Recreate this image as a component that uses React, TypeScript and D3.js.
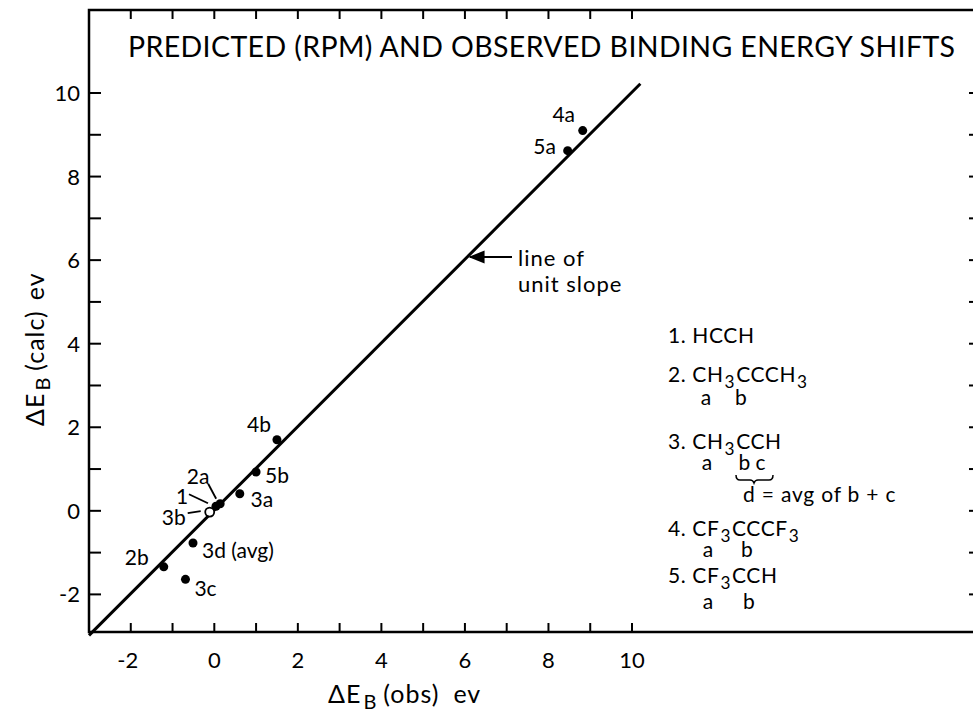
import React from "react";
import * as d3 from "d3";

const W = 973;
const H = 713;

// ---- data ----
const pointLabels = ["4a", "5a", "4b", "5b", "3a", "2a", "1", "3b", "3d (avg)", "2b", "3c"];
const obsValues = [8.82, 8.46, 1.5, 1.0, 0.61, 0.14, 0.04, -0.11, -0.51, -1.21, -0.69];
const calcValues = [9.1, 8.62, 1.7, 0.93, 0.41, 0.17, 0.11, -0.03, -0.77, -1.34, -1.64];
const openPoints = ["3b"];

const xTickValues = [-2, 0, 2, 4, 6, 8, 10];
const yTickValues = [-2, 0, 2, 4, 6, 8, 10];
const minorTicks = d3.range(-2, 11);
const unitLineX = [-3, 10.2];

const titleText = "PREDICTED (RPM) AND OBSERVED BINDING ENERGY  SHIFTS";

// label placement (pixel offsets from point), anchor
const labelOffsets: Record<string, [number, number, string]> = {
  "4a": [-19, -17, "middle"],
  "5a": [-23, -5, "middle"],
  "4b": [-18, -16, "middle"],
  "5b": [21, 3, "middle"],
  "3a": [22, 5, "middle"],
  "2a": [-22, -28, "middle"],
  "1": [-34, -11, "middle"],
  "3b": [-36, 4, "middle"],
  "3d (avg)": [9, 6, "start"],
  "2b": [-27, -10, "middle"],
  "3c": [20, 8, "middle"],
};
const leaders: Record<string, [number, number, number, number]> = {
  "2a": [-12, -20, -4, -5],
  "1": [-27, -12, -8, -3],
  "3b": [-22, 1, -9, -1],
};

const FONT = "Lato, 'Open Sans', sans-serif";

type Seg = { t: string; sub?: boolean };
const legendRows: { y: number; segs: Seg[] }[] = [
  { y: 343, segs: [{ t: "1. HCCH" }] },
  { y: 382, segs: [{ t: "2. CH" }, { t: "3", sub: true }, { t: "CCCH" }, { t: "3", sub: true }] },
  { y: 449, segs: [{ t: "3. CH" }, { t: "3", sub: true }, { t: "CCH" }] },
  { y: 536, segs: [{ t: "4. CF" }, { t: "3", sub: true }, { t: "CCCF" }, { t: "3", sub: true }] },
  { y: 583, segs: [{ t: "5. CF" }, { t: "3", sub: true }, { t: "CCH" }] },
];
const legendLetters: { x: number; y: number; t: string }[] = [
  { x: 706, y: 405, t: "a" },
  { x: 741, y: 405, t: "b" },
  { x: 707, y: 470, t: "a" },
  { x: 752, y: 470, t: "b c" },
  { x: 708, y: 557, t: "a" },
  { x: 747, y: 557, t: "b" },
  { x: 708, y: 609, t: "a" },
  { x: 749, y: 609, t: "b" },
];

function SubText({ x, y, segs, size }: { x: number; y: number; segs: Seg[]; size: number }) {
  let prevSub = false;
  return (
    <text x={x} y={y} fontSize={size} fontFamily={FONT} fill="#000" letterSpacing={0.6}>
      {segs.map((s, i) => {
        let dy = 0;
        if (s.sub && !prevSub) dy = 6;
        if (!s.sub && prevSub) dy = -6;
        prevSub = !!s.sub;
        return (
          <tspan key={i} dy={dy} fontSize={s.sub ? size * 0.82 : size} dx={1}>
            {s.t}
          </tspan>
        );
      })}
    </text>
  );
}

export default function App() {
  const x = d3.scaleLinear().domain([-3, 10]).range([89, 632]);
  const y = d3.scaleLinear().domain([-2.9, 10]).range([632, 93]);
  const left = 89,
    top = 10,
    bottom = 632,
    right = 985;

  const line = d3
    .line<number>()
    .x((d) => x(d))
    .y((d) => y(d + 0.02));

  return (
    <svg width={W} height={H} style={{ position: "absolute", left: 0, top: 0, background: "#fff" }}>
      <rect x={0} y={0} width={W} height={H} fill="#fff" />
      <defs>
        <marker id="arr" viewBox="0 0 10 10" refX="9" refY="5" markerWidth="9" markerHeight="9" orient="auto">
          <path d="M0,1 L10,5 L0,9 Z" fill="#000" />
        </marker>
      </defs>
      {/* frame */}
      <path
        d={`M${right},${top} L${left},${top} L${left},${bottom} L${right},${bottom} Z`}
        fill="none"
        stroke="#000"
        strokeWidth={2.5}
      />
      {/* ticks */}
      {minorTicks.map((v) => (
        <g key={"t" + v} stroke="#000" strokeWidth={2}>
          <line x1={x(v)} x2={x(v)} y1={bottom} y2={bottom - 9} />
          <line x1={x(v)} x2={x(v)} y1={top} y2={top + 9} />
          <line x1={left} x2={left + 12} y1={y(v)} y2={y(v)} />
          <line x1={right} x2={right - 16} y1={y(v)} y2={y(v)} />
        </g>
      ))}
      {/* tick labels */}
      {xTickValues.map((v) => (
        <text
          key={"xl" + v}
          x={x(v) - (v < 0 ? 3 : 0)}
          y={668}
          fontSize={22}
          fontFamily={FONT}
          textAnchor="middle"
        >
          {v}
        </text>
      ))}
      {yTickValues.map((v) => (
        <text
          key={"yl" + v}
          x={80}
          y={y(v) + 8}
          fontSize={22}
          fontFamily={FONT}
          textAnchor="end"
        >
          {v}
        </text>
      ))}
      {/* axis titles */}
      <text x={328} y={703} fontSize={25} fontFamily={FONT} letterSpacing={1}>
        ΔE
        <tspan fontSize={20} dy={6} dx={2}>
          B
        </tspan>
        <tspan dy={-6} dx={6}>
          (obs)
        </tspan>
        <tspan dx={14}>ev</tspan>
      </text>
      <text transform={`translate(44,426) rotate(-90)`} fontSize={25} fontFamily={FONT} letterSpacing={1}>
        ΔE
        <tspan fontSize={20} dy={6} dx={2}>
          B
        </tspan>
        <tspan dy={-6} dx={6}>
          (calc)
        </tspan>
        <tspan dx={10}>ev</tspan>
      </text>
      {/* title */}
      <text x={128} y={57} fontSize={28.5} fontFamily={FONT} textLength={827} lengthAdjust="spacing">
        {titleText}
      </text>
      {/* unit slope line */}
      <path d={line(unitLineX) || ""} fill="none" stroke="#000" strokeWidth={3} />
      {/* annotation */}
      <line x1={512} y1={257} x2={470} y2={257} stroke="#000" strokeWidth={1.8} markerEnd="url(#arr)" />
      <text x={518} y={266} fontSize={22} fontFamily={FONT} letterSpacing={1}>
        line of
      </text>
      <text x={518} y={292} fontSize={22} fontFamily={FONT} letterSpacing={1}>
        unit slope
      </text>
      {/* points */}
      {pointLabels.map((lab, i) => {
        const px = x(obsValues[i]);
        const py = y(calcValues[i]);
        const [dx, dy, anchor] = labelOffsets[lab];
        const ld = leaders[lab];
        const open = openPoints.includes(lab);
        return (
          <g key={lab}>
            <circle
              cx={px}
              cy={py}
              r={4.5}
              fill={open ? "#fff" : "#000"}
              stroke="#000"
              strokeWidth={open ? 1.8 : 0}
            />
            {ld && (
              <line x1={px + ld[0]} y1={py + ld[1]} x2={px + ld[2]} y2={py + ld[3]} stroke="#000" strokeWidth={1.8} />
            )}
            <text
              x={px + dx}
              y={py + dy}
              fontSize={21}
              fontFamily={FONT}
              textAnchor={anchor}
              dominantBaseline="central"
            >
              {lab}
            </text>
          </g>
        );
      })}
      {/* legend */}
      {legendRows.map((r, i) => (
        <SubText key={i} x={667} y={r.y} segs={r.segs} size={21} />
      ))}
      {legendLetters.map((l, i) => (
        <text key={"ll" + i} x={l.x} y={l.y} fontSize={21} fontFamily={FONT} textAnchor="middle">
          {l.t}
        </text>
      ))}
      <path
        d="M736,475 Q736,480 740,480 L750,480 Q753,480 754,483 Q755,480 758,480 L769,480 Q773,480 773,475"
        fill="none"
        stroke="#000"
        strokeWidth={1.5}
      />
      <text x={743} y={502} fontSize={21} fontFamily={FONT} letterSpacing={0.8}>
        d = avg  of b + c
      </text>
    </svg>
  );
}
